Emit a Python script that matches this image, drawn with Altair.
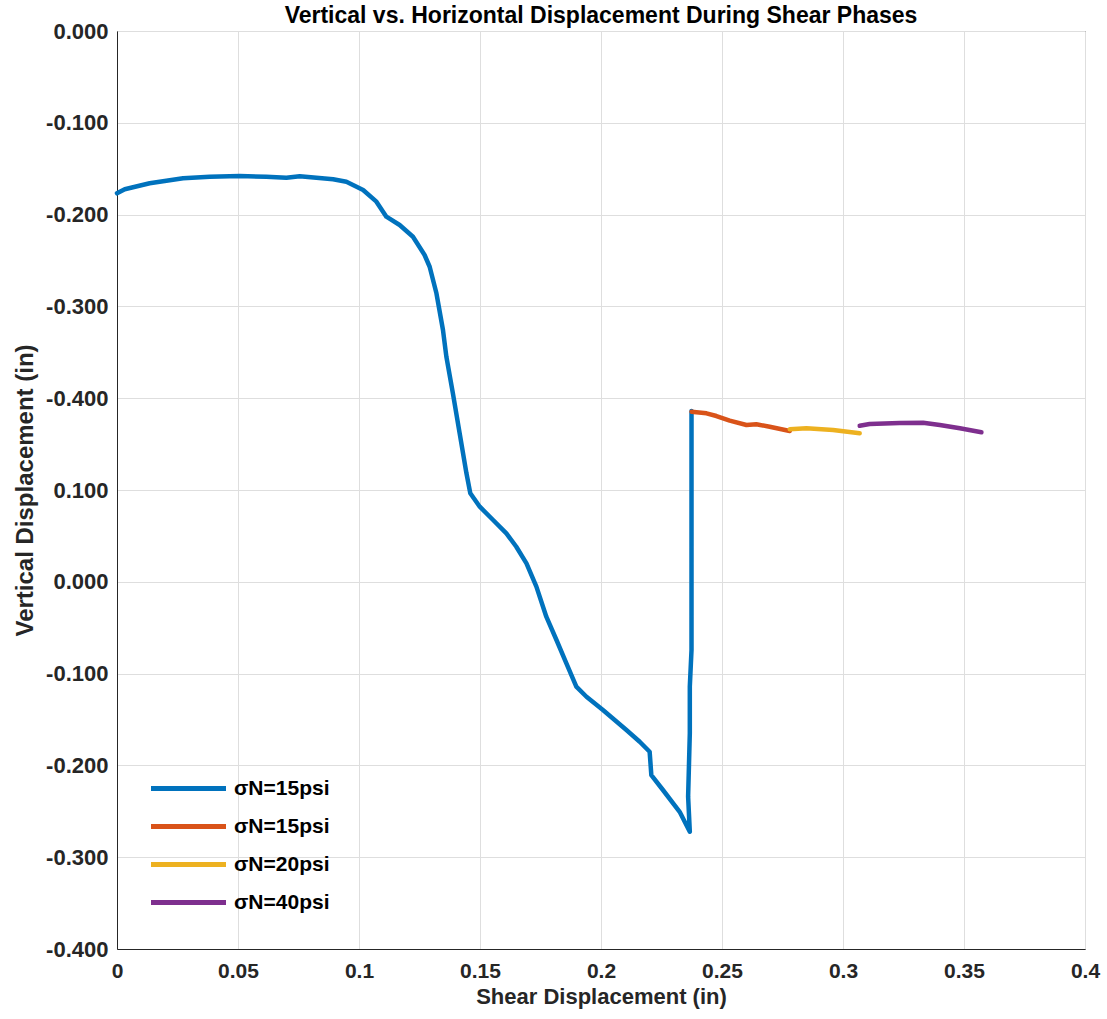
import altair as alt
import pandas as pd

# ---- data ----
blue_x = [0.0000, 0.0032, 0.0135, 0.0273, 0.0383, 0.0507, 0.0617, 0.0700, 0.0755, 0.0893,
          0.0948, 0.1017, 0.1072, 0.1113, 0.1168, 0.1223, 0.1271, 0.1292, 0.1320, 0.1347,
          0.1361, 0.1388, 0.1416, 0.1444, 0.1460, 0.1499, 0.1554, 0.1609, 0.1650, 0.1692,
          0.1733, 0.1774, 0.1816, 0.1857, 0.1898, 0.1940, 0.2008, 0.2105, 0.2160, 0.2201,
          0.2208, 0.2256, 0.2325, 0.2367, 0.2360, 0.2367, 0.2367, 0.2374, 0.2374, 0.2374,
          0.2374]
blue_y = [0.4232, 0.4276, 0.4341, 0.4395, 0.4413, 0.4420, 0.4413, 0.4402, 0.4417, 0.4385,
          0.4358, 0.4268, 0.4141, 0.3977, 0.3887, 0.3759, 0.3560, 0.3432, 0.3143, 0.2743,
          0.2452, 0.2053, 0.1618, 0.1182, 0.0964, 0.0818, 0.0673, 0.0528, 0.0382, 0.0201,
          -0.0053, -0.0380, -0.0634, -0.0888, -0.1143, -0.1252, -0.1397, -0.1614, -0.1742, -0.1851,
          -0.2105, -0.2268, -0.2505, -0.2722, -0.2341, -0.1650, -0.1143, -0.0743, 0.0346, 0.1109,
          0.1861]

orange_x = [0.2374, 0.2436, 0.2477, 0.2532, 0.2601, 0.2642, 0.2697, 0.2780]
orange_y = [0.1853, 0.1835, 0.1806, 0.1755, 0.1708, 0.1716, 0.1689, 0.1643]

yellow_x = [0.2780, 0.2849, 0.2959, 0.3069]
yellow_y = [0.1661, 0.1672, 0.1654, 0.1618]

purple_x = [0.3069, 0.3110, 0.3234, 0.3331, 0.3400, 0.3483, 0.3572]
purple_y = [0.1700, 0.1719, 0.1730, 0.1733, 0.1708, 0.1672, 0.1629]

series_keys = ["s1", "s2", "s3", "s4"]
series_labels = ["σN=15psi", "σN=15psi", "σN=20psi", "σN=40psi"]
series_colors = ["#0072BD", "#D95319", "#EDB120", "#7E2F8E"]

x_ticks = [0, 0.05, 0.1, 0.15, 0.2, 0.25, 0.3, 0.35, 0.4]
x_tick_labels = ["0", "0.05", "0.1", "0.15", "0.2", "0.25", "0.3", "0.35", "0.4"]
y_ticks = [-0.4, -0.3, -0.2, -0.1, 0.0, 0.1, 0.2, 0.3, 0.4, 0.5, 0.6]
y_tick_labels = ["-0.400", "-0.300", "-0.200", "-0.100", "0.000", "0.100",
                 "-0.400", "-0.300", "-0.200", "-0.100", "0.000"]

rows = []
for key, xs, ys in zip(series_keys, [blue_x, orange_x, yellow_x, purple_x],
                       [blue_y, orange_y, yellow_y, purple_y]):
    for i, (a, b) in enumerate(zip(xs, ys)):
        rows.append({"series": key, "x": a, "y": b, "order": i})
df = pd.DataFrame(rows)

FONT = "Liberation Sans"

def js_list(lst):
    return "[" + ",".join("'" + s + "'" for s in lst) + "]"

y_label_expr = js_list(y_tick_labels) + "[round(datum.value*10)+4]"
x_label_expr = js_list(x_tick_labels) + "[round(datum.value*20)]"
legend_label_expr = ("{" + ",".join(f"'{k}':'{l}'" for k, l in zip(series_keys, series_labels))
                     + "}[datum.value]")

chart = alt.Chart(df).mark_line(strokeWidth=4.5, strokeCap="round", strokeJoin="round").encode(
    x=alt.X("x:Q",
            scale=alt.Scale(domain=[0, 0.4], nice=False, zero=False),
            axis=alt.Axis(title="Shear Displacement (in)", values=x_ticks,
                          labelExpr=x_label_expr, labelPadding=11, titlePadding=5,
                          labelFontSize=21, titleFontSize=22, labelFlush=False)),
    y=alt.Y("y:Q",
            scale=alt.Scale(domain=[-0.4, 0.6], nice=False, zero=False),
            axis=alt.Axis(title="Vertical Displacement (in)", values=y_ticks,
                          labelExpr=y_label_expr, labelPadding=9, titlePadding=8,
                          titleFontSize=24, labelFlush=False)),
    color=alt.Color("series:N",
                    scale=alt.Scale(domain=series_keys, range=series_colors),
                    legend=alt.Legend(title=None, orient="none", legendX=50, legendY=736,
                                      labelExpr=legend_label_expr,
                                      symbolType="M-2,0L2,0", symbolSize=1406,
                                      symbolStrokeWidth=5, labelFontSize=21,
                                      labelFont=FONT, labelFontWeight="bold",
                                      labelColor="#000000", rowPadding=6,
                                      labelOffset=24)),
    order="order:Q",
).properties(
    width=968, height=918,
    autosize=alt.AutoSizeParams(type="none"),
    padding={"left": 117, "top": 31, "right": 22, "bottom": 70},
    title=alt.TitleParams("Vertical vs. Horizontal Displacement During Shear Phases",
                          font=FONT, fontSize=23, fontWeight="bold", color="#000000",
                          anchor="middle", offset=-8),
).configure_view(
    stroke="#262626", strokeWidth=1
).configure_axis(
    labelFont=FONT, labelFontSize=22, labelFontWeight="bold", labelColor="#262626",
    titleFont=FONT, titleFontSize=21, titleFontWeight="bold", titleColor="#262626",
    gridColor="#dedede", gridWidth=1, ticks=False,
    domainColor="#262626", domainWidth=1,
)

chart.save("out.html", embed_options={"renderer": "svg", "actions": False})
